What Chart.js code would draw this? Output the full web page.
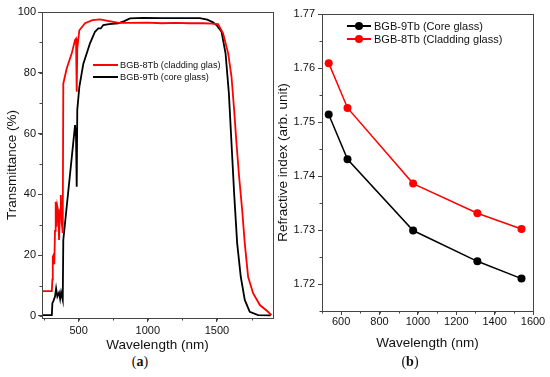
<!DOCTYPE html>
<html>
<head>
<meta charset="utf-8">
<script src="https://cdn.jsdelivr.net/npm/chart.js@4.4.0/dist/chart.umd.min.js"></script>
<style>
  body { margin: 0; background: #fff; width: 550px; height: 377px; position: relative; overflow: hidden; font-family: "Liberation Sans", Arial, sans-serif; }
  .box { position: absolute; top: 0; }
  #boxA { left: 0; width: 285px; height: 353px; }
  #boxB { left: 270px; width: 280px; height: 351px; }
  .leg { position: absolute; height: 12px; display: flex; align-items: center; white-space: nowrap; color: #111; }
  .leg .ln { position: relative; height: 2px; margin-right: 2px; }
  .leg .dot { position: absolute; width: 8px; height: 8px; border-radius: 50%; top: -3.25px; left: 8px; }
  .cap { position: absolute; top: 354px; width: 40px; text-align: center; font-family: "Liberation Serif", serif; font-size: 14px; color: #111; }
</style>
</head>
<body>
<div class="box" id="boxA"><canvas id="chartA"></canvas></div>
<div class="box" id="boxB"><canvas id="chartB"></canvas></div>

<div class="leg" style="left:93px; top:59px; font-size:9.2px;"><span class="ln" style="width:25px; background:#ff0000;"></span>BGB-8Tb (cladding glas)</div>
<div class="leg" style="left:93px; top:71px; font-size:9.2px;"><span class="ln" style="width:25px; background:#000;"></span>BGB-9Tb (core glass)</div>

<div class="leg" style="left:347px; top:20px; font-size:11px;"><span class="ln" style="width:24px; height:1.5px; background:#000; margin-right:3px;"><span class="dot" style="background:#000;"></span></span>BGB-9Tb (Core glass)</div>
<div class="leg" style="left:347px; top:33px; font-size:11px;"><span class="ln" style="width:24px; height:1.5px; background:#ff0000; margin-right:3px;"><span class="dot" style="background:#ff0000;"></span></span>BGB-8Tb (Cladding glass)</div>

<div class="cap" style="left:120px;">(<b>a</b>)</div>
<div class="cap" style="left:390px;">(<b>b</b>)</div>

<script>
// (a) transmittance spectra
const wlCladding = [233, 306, 310, 313, 318, 324, 329, 334, 340, 346, 353, 358, 366, 371, 378, 385, 389, 414, 450, 474, 481, 486, 490, 505, 546, 600, 654, 720, 790, 870, 1000, 1100, 1200, 1300, 1400, 1460, 1508, 1544, 1581, 1605, 1624, 1641, 1660, 1682, 1701, 1725, 1761, 1810, 1869, 1894];
const tCladding = [8.2, 8.2, 12, 19.5, 20, 17, 28, 37.6, 29.4, 36, 34.3, 25, 35, 39.8, 30.5, 27.3, 76.5, 81.5, 86.4, 90.8, 91.2, 73.8, 88, 94, 96.3, 97.3, 97.6, 97, 96.4, 96.4, 96.5, 96.3, 96.4, 96.3, 96.3, 96.2, 96, 93, 86.4, 78.7, 67.8, 56.8, 45.8, 34.9, 23.9, 12.9, 7.5, 3.6, 1.4, 0.3];

const wlCore = [233, 306, 310, 318, 329, 337, 346, 358, 366, 373, 385, 389, 474, 481, 486, 490, 505, 534, 582, 618, 642, 660, 678, 720, 786, 830, 871, 965, 1100, 1250, 1376, 1430, 1472, 1500, 1533, 1562, 1586, 1605, 1624, 1646, 1672, 1701, 1737, 1797, 1889];
const tCore = [0.3, 0.3, 4.2, 5, 6.4, 9.1, 6.4, 7.7, 5.6, 7.8, 5.3, 25, 62.8, 59, 42.5, 67.8, 75.4, 83, 89.7, 93.5, 94.6, 94.6, 95.7, 96, 96.3, 97, 97.9, 98.1, 98, 98, 98, 97.5, 96.6, 95.5, 93.5, 86.4, 73.3, 56.8, 40.4, 23.9, 12.9, 5.3, 1.4, 0.3, 0.2];

const xTicksA = [500, 1000, 1500];
const yTicksA = [0, 20, 40, 60, 80, 100];

// (b) refractive index
const wlIndex = [535, 633, 975, 1310, 1540];
const nCore = [1.7514, 1.7431, 1.7299, 1.7242, 1.7210];
const nCladding = [1.7609, 1.7526, 1.7386, 1.7331, 1.7302];

const xTicksB = [600, 800, 1000, 1200, 1400, 1600];
const yTicksB = [1.72, 1.73, 1.74, 1.75, 1.76, 1.77];

const axisColor = '#444';
const tickFont = { family: '"Liberation Sans", Arial, sans-serif', size: 11 };
const titleFont = { family: '"Liberation Sans", Arial, sans-serif', size: 13.5 };

const toPoints = (xs, ys) => xs.map((x, i) => ({ x: x, y: ys[i] }));
const fixTicks = (values) => (scale) => { scale.ticks = values.map(v => ({ value: v })); };

// box frame + minor ticks
const frameAndMinor = {
  id: 'frameAndMinor',
  afterDraw(chart, args, opts) {
    const { ctx, chartArea: a, scales } = chart;
    ctx.save();
    ctx.strokeStyle = axisColor;
    ctx.lineWidth = 1;
    ctx.strokeRect(Math.round(a.left) + 0.5, Math.round(a.top) + 0.5, Math.round(a.right - a.left), Math.round(a.bottom - a.top));
    ctx.beginPath();
    const xs = scales.x, ys = scales.y;
    for (let i = Math.ceil(xs.min / opts.x - 1e-6); i * opts.x <= xs.max + 1e-9; i++) {
      const px = Math.round(xs.getPixelForValue(i * opts.x)) + 0.5;
      ctx.moveTo(px, a.bottom);
      ctx.lineTo(px, a.bottom + 2.5);
    }
    for (let i = Math.ceil(ys.min / opts.y - 1e-6); i * opts.y <= ys.max + 1e-9; i++) {
      const py = Math.round(ys.getPixelForValue(i * opts.y)) + 0.5;
      ctx.moveTo(a.left, py);
      ctx.lineTo(a.left - 2.5, py);
    }
    ctx.stroke();
    ctx.restore();
  }
};

const axisBase = (extra) => Object.assign({
  type: 'linear',
  grid: { drawOnChartArea: false, tickLength: 4, tickColor: axisColor, tickWidth: 1 },
  border: { display: true, color: axisColor, width: 1 },
}, extra);

new Chart(document.getElementById('chartA'), {
  type: 'scatter',
  data: {
    datasets: [
      { label: 'BGB-8Tb (cladding glas)', data: toPoints(wlCladding, tCladding), showLine: true, borderColor: '#ff0000', borderWidth: 1.8, pointRadius: 0, tension: 0 },
      { label: 'BGB-9Tb (core glass)', data: toPoints(wlCore, tCore), showLine: true, borderColor: '#000000', borderWidth: 1.8, pointRadius: 0, tension: 0 }
    ]
  },
  options: {
    responsive: true,
    maintainAspectRatio: false,
    animation: false,
    layout: { padding: { top: 12, right: 12, left: 0, bottom: 0 } },
    plugins: { legend: { display: false }, tooltip: { enabled: false }, frameAndMinor: { x: 250, y: 10 } },
    scales: {
      x: axisBase({
        min: 235, max: 1905,
        afterBuildTicks: fixTicks(xTicksA),
        ticks: { color: '#111', font: tickFont, padding: 2, maxRotation: 0, callback: (v) => String(v) },
        title: { display: true, text: 'Wavelength (nm)', color: '#111', font: titleFont, padding: { top: 0, bottom: 0 } },
        afterFit: (s) => { s.height = 35; }
      }),
      y: axisBase({
        min: -0.66, max: 100,
        afterBuildTicks: fixTicks(yTicksA),
        ticks: { color: '#111', font: tickFont, padding: 2, callback: (v) => String(v) },
        title: { display: true, text: 'Transmittance (%)', color: '#111', font: titleFont, padding: { top: 4, bottom: 0 } },
        afterFit: (s) => { s.width = 42; }
      })
    }
  },
  plugins: [frameAndMinor]
});

new Chart(document.getElementById('chartB'), {
  type: 'scatter',
  data: {
    datasets: [
      { label: 'BGB-9Tb (Core glass)', data: toPoints(wlIndex, nCore), showLine: true, borderColor: '#000000', backgroundColor: '#000000', borderWidth: 1.5, pointRadius: 4, pointBorderWidth: 0, tension: 0 },
      { label: 'BGB-8Tb (Cladding glass)', data: toPoints(wlIndex, nCladding), showLine: true, borderColor: '#ff0000', backgroundColor: '#ff0000', borderWidth: 1.5, pointRadius: 4, pointBorderWidth: 0, tension: 0 }
    ]
  },
  options: {
    responsive: true,
    maintainAspectRatio: false,
    animation: false,
    layout: { padding: { top: 14, right: 17, left: 0, bottom: 0 } },
    plugins: { legend: { display: false }, tooltip: { enabled: false }, frameAndMinor: { x: 100, y: 0.005 } },
    scales: {
      x: axisBase({
        min: 500, max: 1600,
        afterBuildTicks: fixTicks(xTicksB),
        ticks: { color: '#111', font: tickFont, padding: 0, maxRotation: 0, callback: (v) => String(v) },
        title: { display: true, text: 'Wavelength (nm)', color: '#111', font: titleFont, padding: { top: 0, bottom: 0 } },
        afterFit: (s) => { s.height = 40; }
      }),
      y: axisBase({
        min: 1.715, max: 1.77,
        afterBuildTicks: fixTicks(yTicksB),
        ticks: { color: '#111', font: tickFont, padding: 3, callback: (v) => v.toFixed(2) },
        title: { display: true, text: 'Refractive index (arb. unit)', color: '#111', font: titleFont, padding: { top: 5, bottom: 0 } },
        afterFit: (s) => { s.width = 52; }
      })
    }
  },
  plugins: [frameAndMinor]
});
</script>
</body>
</html>
